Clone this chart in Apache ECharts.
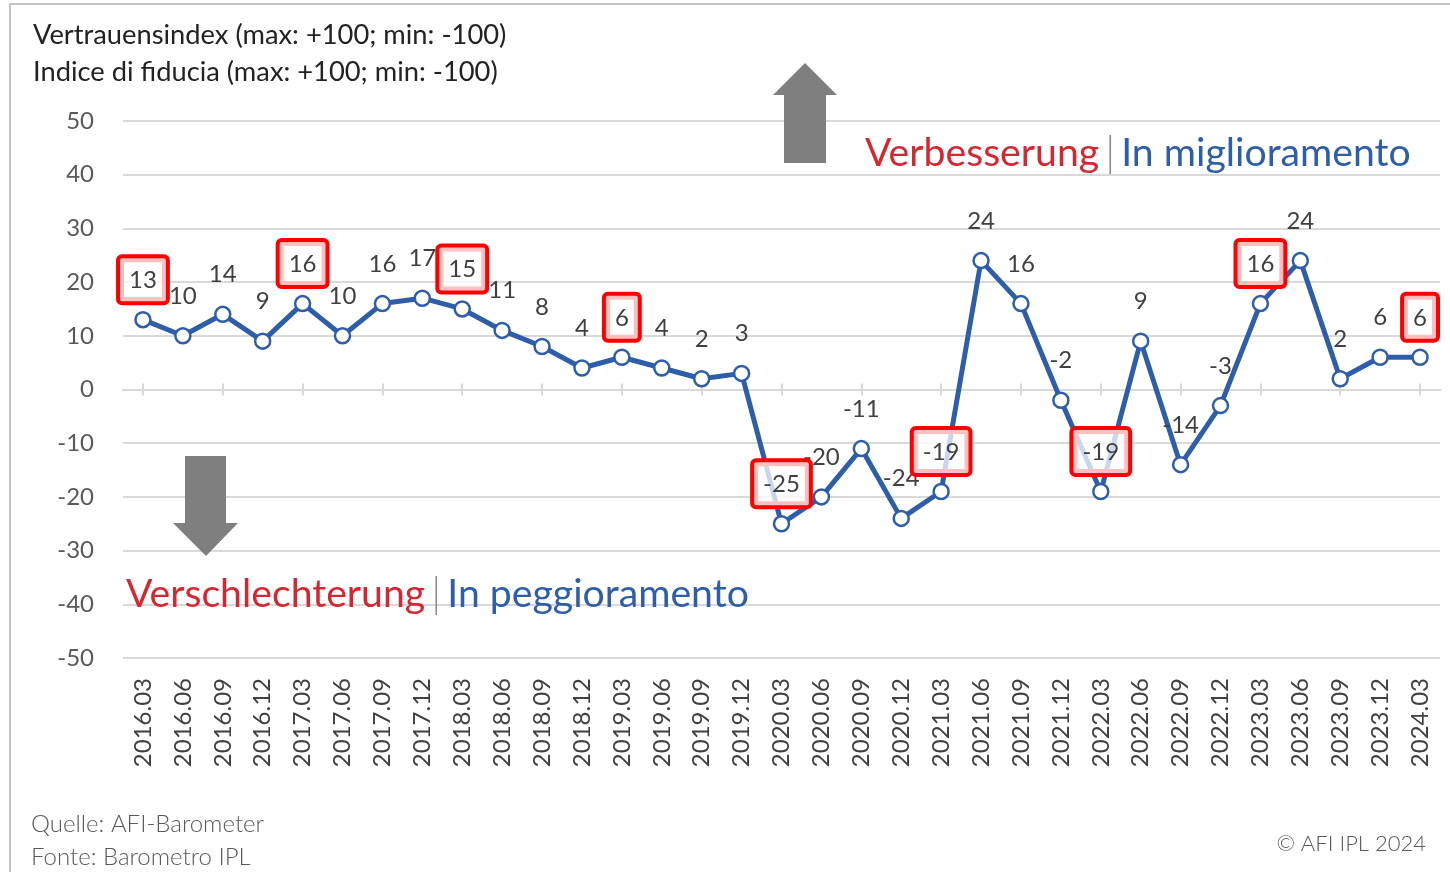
<!DOCTYPE html>
<html>
<head>
<meta charset="utf-8">
<style>
html,body{margin:0;padding:0;background:#fff;}
#chart{width:1450px;height:872px;}
</style>
<script src="https://cdn.jsdelivr.net/npm/echarts@6/dist/echarts.min.js"></script>
</head>
<body>
<div id="chart"></div>
<script>
const categories = ['2016.03','2016.06','2016.09','2016.12','2017.03','2017.06','2017.09','2017.12',
  '2018.03','2018.06','2018.09','2018.12','2019.03','2019.06','2019.09','2019.12',
  '2020.03','2020.06','2020.09','2020.12','2021.03','2021.06','2021.09','2021.12',
  '2022.03','2022.06','2022.09','2022.12','2023.03','2023.06','2023.09','2023.12','2024.03'];
const values = [13,10,14,9,16,10,16,17,15,11,8,4,6,4,2,3,-25,-20,-11,-24,-19,24,16,-2,-19,9,-14,-3,16,24,2,6,6];
const highlightedCats = ['2016.03','2017.03','2018.03','2019.03','2020.03','2021.03','2022.03','2023.03','2024.03'];
const yTicks = {min:-50, max:50, interval:10};
const titleLines = ['Vertrauensindex (max: +100; min: -100)','Indice di fiducia (max: +100; min: -100)'];
const upText = ['Verbesserung','In miglioramento'];
const downText = ['Verschlechterung','In peggioramento'];
const sourceLines = ['Quelle: AFI-Barometer','Fonte: Barometro IPL'];
const copyright = '© AFI IPL 2024';

const FONT = 'Lato, "Noto Sans", sans-serif';
const BLUE = '#2e5eaa';
const RED = '#d62631';
const isHi = c => highlightedCats.indexOf(c) >= 0;

const chart = echarts.init(document.getElementById('chart'), null, {renderer:'canvas'});

const labelBase = {position:'top', fontFamily:FONT, fontSize:24, color:'#404040', lineHeight:24};

const mainData = values.map((v,i)=>({value:v, label:{show:!isHi(categories[i])}}));
const boxData = values.map((v,i)=>({value:v, label:{show:isHi(categories[i])}}));

const xCommon = {type:'category', data:categories, boundaryGap:true, gridIndex:0};

const option = {
  backgroundColor:'#fff',
  animation:false,
  grid:{left:123, right:10, top:121, bottom:214, containLabel:false},
  xAxis:[
    Object.assign({}, xCommon, {
      position:'bottom',
      axisLine:{show:false, onZero:false},
      axisTick:{show:false},
      splitLine:{show:false},
      axisLabel:{rotate:90, margin:20, fontFamily:FONT, fontSize:24, color:'#404040'}
    }),
    Object.assign({}, xCommon, {
      position:'bottom',
      axisLine:{show:true, onZero:true, onZeroAxisIndex:0, lineStyle:{color:'#d9d9d9', width:2}},
      axisTick:{show:true, alignWithLabel:true, length:6, lineStyle:{color:'#d9d9d9', width:2}},
      axisLabel:{show:false},
      splitLine:{show:false}
    }),
    Object.assign({}, xCommon, {
      position:'top',
      axisLine:{show:true, onZero:true, onZeroAxisIndex:0, lineStyle:{color:'#d9d9d9', width:2}},
      axisTick:{show:true, alignWithLabel:true, length:6, lineStyle:{color:'#d9d9d9', width:2}},
      axisLabel:{show:false},
      splitLine:{show:false}
    })
  ],
  yAxis:{
    type:'value', min:yTicks.min, max:yTicks.max, interval:yTicks.interval,
    axisLine:{show:false}, axisTick:{show:false},
    splitLine:{lineStyle:{color:'#d9d9d9', width:2}},
    axisLabel:{margin:29, fontFamily:FONT, fontSize:24, color:'#595959'}
  },
  series:[
    {
      type:'line', xAxisIndex:0, data:mainData, z:3,
      symbol:'circle', symbolSize:15, showAllSymbol:true,
      lineStyle:{color:BLUE, width:5},
      itemStyle:{color:'#fff', borderColor:BLUE, borderWidth:2.5},
      label:Object.assign({}, labelBase, {distance:19}),
      labelLayout:{hideOverlap:false}
    },
    {
      type:'line', xAxisIndex:0, data:boxData, z:5,
      symbol:'circle', symbolSize:15, showAllSymbol:true,
      lineStyle:{width:0, opacity:0},
      itemStyle:{color:'rgba(0,0,0,0)', borderWidth:0},
      silent:true,
      label:Object.assign({}, labelBase, {
        distance:11,
        borderColor:'#ff0000', borderWidth:4, borderRadius:2, padding:[10,9,9,9],
        backgroundColor:'rgba(255,255,255,0.75)'
      }),
      labelLayout:{hideOverlap:false}
    }
  ],
  graphic:[
    {type:'polyline', z:100, shape:{points:[[10,872],[10,4],[1450,4]]}, style:{stroke:'#c4c4c4', lineWidth:2, fill:null}},
    {type:'text', z:100, left:33, top:22, style:{text:titleLines[0], font:'27.3px '+FONT, fill:'#222'}},
    {type:'text', z:100, left:33, top:59, style:{text:titleLines[1], font:'27.3px '+FONT, fill:'#222'}},
    {type:'polygon', z:100, shape:{points:[[773,95],[805,63],[837,95],[826,95],[826,163],[784,163],[784,95]]}, style:{fill:'#7f7f7f'}},
    {type:'polygon', z:100, shape:{points:[[185,456],[226,456],[226,523],[238,523],[206,556],[173,523],[185,523]]}, style:{fill:'#7f7f7f'}},
    {type:'text', z:100, left:865, top:132, style:{
      text:'{r|'+upText[0]+'}{s||}{b|'+upText[1]+'}',
      rich:{
        r:{fontFamily:FONT, fontSize:39.2, fill:RED},
        s:{fontFamily:FONT, fontSize:42, fill:'#8c8c8c', fontWeight:300, padding:[0,6,0,6]},
        b:{fontFamily:FONT, fontSize:39.2, fill:BLUE}
      }}},
    {type:'text', z:100, left:126, top:573, style:{
      text:'{r|'+downText[0]+'}{s||}{b|'+downText[1]+'}',
      rich:{
        r:{fontFamily:FONT, fontSize:39.2, fill:RED},
        s:{fontFamily:FONT, fontSize:42, fill:'#8c8c8c', fontWeight:300, padding:[0,6,0,6]},
        b:{fontFamily:FONT, fontSize:39.2, fill:BLUE}
      }}},
    {type:'text', z:100, left:31, top:812, style:{text:sourceLines[0], font:'300 24px '+FONT, fill:'#595959'}},
    {type:'text', z:100, left:31, top:845, style:{text:sourceLines[1], font:'300 24px '+FONT, fill:'#595959'}},
    {type:'text', z:100, right:24, top:833, style:{text:copyright, font:'300 22px '+FONT, fill:'#595959'}}
  ]
};
chart.setOption(option);
</script>
</body>
</html>
